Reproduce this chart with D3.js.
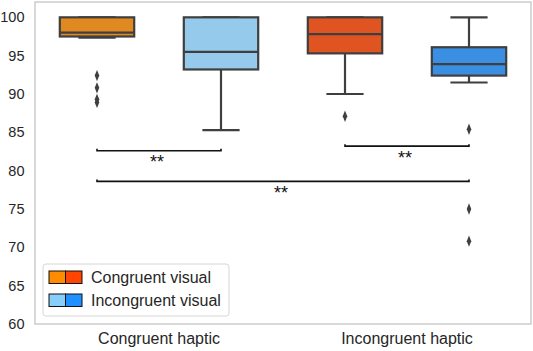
<!DOCTYPE html>
<html>
<head>
<meta charset="utf-8">
<script src="https://cdn.jsdelivr.net/npm/d3@7"></script>
<style>
  body { margin: 0; background: #fff; }
  text { font-family: "Liberation Sans", Arial, sans-serif; }
</style>
</head>
<body>
<svg id="chart" width="533" height="351"></svg>
<script>
// categories on the x axis and the hue (legend) groups
const haptic = ["Congruent haptic", "Incongruent haptic"];
const visual = ["Congruent visual", "Incongruent visual"];

// box statistics, one entry per box: [haptic, visual] order
const boxHaptic = ["Congruent haptic", "Congruent haptic", "Incongruent haptic", "Incongruent haptic"];
const boxVisual = ["Congruent visual", "Incongruent visual", "Congruent visual", "Incongruent visual"];
const whiskerLow = [97.35, 85.3, 90.0, 91.5];
const q1 = [97.5, 93.2, 95.3, 92.4];
const median = [98.0, 95.5, 97.8, 93.9];
const q3 = [100, 100, 100, 96.1];
const whiskerHigh = [100, 100, 100, 100];
const outliers = [[92.4, 90.8, 89.3, 88.9], [], [87.1], [85.4, 75.0, 70.8]];

// significance brackets: from box, to box, height, label
const sigFrom = [0, 2, 0];
const sigTo = [1, 3, 3];
const sigY = [82.6, 83.2, 78.6];
const sigLabel = ["**", "**", "**"];

const yTicks = [60, 65, 70, 75, 80, 85, 90, 95, 100];

const boxColors = {"Congruent visual": ["#df8920", "#df5420"], "Incongruent visual": ["#95caec", "#3a8fe3"]};
const legendColors = {"Congruent visual": ["#ff8c00", "#ff4500"], "Incongruent visual": ["#87cefa", "#1e90ff"]};

const svg = d3.select("#chart");
const margin = {left: 35, right: 2, top: 2, bottom: 27};
const width = 533, height = 351;

const x = d3.scaleBand().domain(haptic).range([margin.left, width - margin.right]);
const hue = d3.scaleBand().domain(visual).range([0, x.bandwidth()]);
const y = d3.scaleLinear().domain([60, 102]).range([height - margin.bottom, margin.top]);

const boxW = hue.bandwidth() * 0.6;
const lineCol = "#3f3f3f";
const cx = i => x(boxHaptic[i]) + hue(boxVisual[i]) + hue.bandwidth() / 2;

// frame
svg.append("rect")
  .attr("x", margin.left).attr("y", margin.top)
  .attr("width", width - margin.left - margin.right)
  .attr("height", height - margin.top - margin.bottom)
  .attr("fill", "none").attr("stroke", "#cccccc").attr("stroke-width", 1.5);

// y axis labels (no tick marks)
const yAxis = svg.append("g")
  .attr("transform", `translate(${margin.left},0)`)
  .call(d3.axisLeft(y).tickValues(yTicks).tickSize(0).tickPadding(10.5));
yAxis.select(".domain").remove();
yAxis.selectAll("text").attr("font-size", 14.5).attr("fill", "#262626")
  .attr("font-family", "Liberation Sans, Arial, sans-serif");

// x axis labels
const xAxis = svg.append("g")
  .attr("transform", `translate(0,${height - margin.bottom})`)
  .call(d3.axisBottom(x).tickSize(0).tickPadding(9));
xAxis.select(".domain").remove();
xAxis.selectAll("text").attr("font-size", 16).attr("fill", "#262626")
  .attr("font-family", "Liberation Sans, Arial, sans-serif");

// boxes
const boxes = svg.append("g").selectAll("g")
  .data(d3.range(q1.length))
  .join("g");

boxes.append("line")   // whisker
  .attr("x1", cx).attr("x2", cx)
  .attr("y1", i => y(whiskerLow[i])).attr("y2", i => y(whiskerHigh[i]))
  .attr("stroke", lineCol).attr("stroke-width", 2.2);

boxes.append("line")   // lower cap
  .attr("x1", i => cx(i) - boxW / 4).attr("x2", i => cx(i) + boxW / 4)
  .attr("y1", i => y(whiskerLow[i])).attr("y2", i => y(whiskerLow[i]))
  .attr("stroke", lineCol).attr("stroke-width", 2.2);

boxes.append("line")   // upper cap
  .attr("x1", i => cx(i) - boxW / 4).attr("x2", i => cx(i) + boxW / 4)
  .attr("y1", i => y(whiskerHigh[i])).attr("y2", i => y(whiskerHigh[i]))
  .attr("stroke", lineCol).attr("stroke-width", 2.2);

boxes.append("rect")
  .attr("x", i => cx(i) - boxW / 2).attr("width", boxW)
  .attr("y", i => y(q3[i])).attr("height", i => y(q1[i]) - y(q3[i]))
  .attr("fill", i => boxColors[boxVisual[i]][haptic.indexOf(boxHaptic[i])])
  .attr("stroke", lineCol).attr("stroke-width", 2.2);

boxes.append("line")   // median
  .attr("x1", i => cx(i) - boxW / 2).attr("x2", i => cx(i) + boxW / 2)
  .attr("y1", i => y(median[i])).attr("y2", i => y(median[i]))
  .attr("stroke", lineCol).attr("stroke-width", 2.2);

// outliers as diamonds
const diamond = d3.symbol().type(d3.symbolDiamond).size(28);
boxes.each(function(i) {
  d3.select(this).selectAll("path.out")
    .data(outliers[i])
    .join("path")
    .attr("class", "out")
    .attr("d", diamond)
    .attr("transform", v => `translate(${cx(i)},${y(v)}) scale(0.8,1.15)`)
    .attr("fill", lineCol);
});

// significance brackets
const sig = svg.append("g").selectAll("g")
  .data(d3.range(sigY.length))
  .join("g");

sig.append("path")
  .attr("d", i => {
    const x1 = cx(sigFrom[i]), x2 = cx(sigTo[i]);
    const yy = y(sigY[i]), yt = y(sigY[i] + 0.25);
    return `M${x1},${yt}L${x1},${yy}L${x2},${yy}L${x2},${yt}`;
  })
  .attr("fill", "none").attr("stroke", "#111").attr("stroke-width", 1.6);

sig.append("text")
  .attr("x", i => (cx(sigFrom[i]) + cx(sigTo[i])) / 2 - 2)
  .attr("y", i => y(sigY[i]) + 17.5)
  .attr("text-anchor", "middle")
  .attr("font-size", 18)
  .attr("fill", "#111")
  .text(i => sigLabel[i]);

// legend
const legend = svg.append("g").attr("transform", "translate(43,264)");
legend.append("rect")
  .attr("width", 186).attr("height", 52).attr("rx", 3)
  .attr("fill", "#fff").attr("fill-opacity", 0.8)
  .attr("stroke", "#d6d6d6").attr("stroke-width", 1);

const items = legend.selectAll("g.item")
  .data(visual)
  .join("g")
  .attr("class", "item")
  .attr("transform", (d, i) => `translate(6,${7 + i * 23})`);

items.selectAll("rect")
  .data(d => legendColors[d])
  .join("rect")
  .attr("x", (c, j) => j * 16.5).attr("width", 16.5).attr("height", 12.5)
  .attr("fill", c => c).attr("stroke", "#111").attr("stroke-width", 1);

items.append("text")
  .attr("x", 42).attr("y", 6.5)
  .attr("dy", "0.35em")
  .attr("font-size", 16).attr("fill", "#262626")
  .text(d => d);
</script>
</body>
</html>
